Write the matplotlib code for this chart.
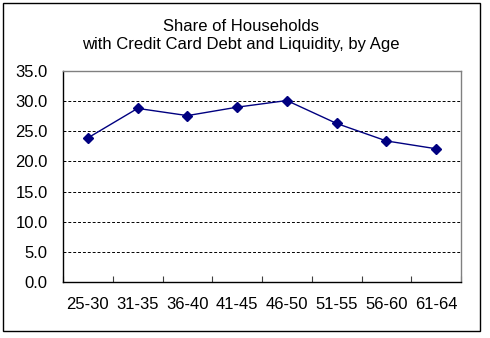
import matplotlib
matplotlib.use("Agg")
import matplotlib.pyplot as plt
from matplotlib.patches import Rectangle

categories = ["25-30", "31-35", "36-40", "41-45", "46-50", "51-55", "56-60", "61-64"]
share = [23.9, 28.8, 27.6, 29.0, 30.1, 26.3, 23.4, 22.1]
yticks = [0, 5, 10, 15, 20, 25, 30, 35]
title = "Share of Households\nwith Credit Card Debt and Liquidity, by Age"

plt.rcParams['font.family'] = ['Liberation Sans', 'DejaVu Sans']

fig = plt.figure(figsize=(4.9, 3.38), dpi=100)
fig.patch.set_facecolor('white')
# outer chart border
fig.add_artist(Rectangle((3/490, 1-331/338), 477/490, 328/338, transform=fig.transFigure,
                         fill=False, edgecolor='black', linewidth=1.0))

ax = fig.add_axes([63/490, 1-282/338, 398/490, 211/338])
x = list(range(len(categories)))
ax.plot(x, share, color='#000080', linewidth=1.0, marker='D', markersize=5.5,
        markerfacecolor='#000080', markeredgecolor='#000080', zorder=3)

ax.set_xlim(-0.5, len(categories) - 0.5)
ax.set_ylim(0, 35)
ax.set_yticks(yticks)
ax.set_yticklabels([f"{v:.1f}" for v in yticks], fontsize=12)
ax.set_xticks(x)
ax.set_xticklabels(categories, fontsize=12)
ax.set_xticks([i - 0.5 for i in range(len(categories) + 1)], minor=True)
ax.tick_params(axis='x', which='major', length=0, pad=11)
ax.tick_params(axis='x', which='minor', direction='in', length=4, width=0.8, color='#404040')
ax.tick_params(axis='y', length=0, pad=11)

for v in yticks[1:-1]:
    ax.axhline(v, color='black', linestyle=(0, (3, 2)), linewidth=0.7, zorder=1)

for s in ['left', 'bottom']:
    ax.spines[s].set_color('black')
    ax.spines[s].set_linewidth(1.0)
for s in ['top', 'right']:
    ax.spines[s].set_color('#808080')
    ax.spines[s].set_linewidth(1.0)

fig.text(0.5 * (82 + 399) / 490, 1 - 35.5/338, title, ha='center', va='center',
         fontsize=12, linespacing=1.2)

fig.savefig("out.png", dpi=100)
